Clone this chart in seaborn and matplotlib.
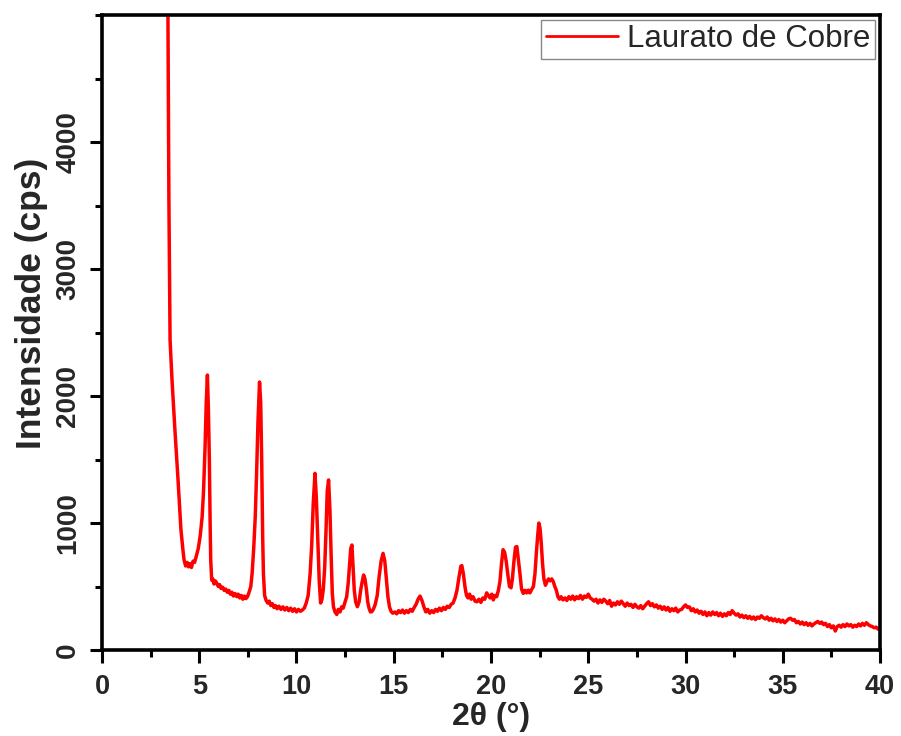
import matplotlib
matplotlib.use("Agg")
import matplotlib.pyplot as plt
from matplotlib.ticker import MultipleLocator, FixedLocator
import pandas as pd
import seaborn as sns

# XRD pattern of copper laurate: 2-theta (degrees) and intensity (counts per second)
two_theta = [
    3.38, 3.44, 3.50, 3.60, 3.75, 3.91, 4.06, 4.16, 4.22, 4.30, 4.38, 4.45, 4.52, 4.60, 4.68,
    4.76, 4.85, 4.95, 5.05, 5.15, 5.22, 5.30, 5.36, 5.42, 5.47, 5.52, 5.56, 5.59, 5.64, 5.70,
    5.76, 5.82, 5.90, 5.98, 6.05, 6.12, 6.20, 6.28, 6.36, 6.44, 6.52, 6.60, 6.68, 6.76, 6.84,
    6.93, 7.00, 7.08, 7.16, 7.24, 7.32, 7.40, 7.48, 7.55, 7.65, 7.72, 7.80, 7.88, 7.95, 8.02,
    8.10, 8.16, 8.21, 8.26, 8.30, 8.36, 8.44, 8.52, 8.60, 8.68, 8.76, 8.84, 8.92, 9.00, 9.10,
    9.20, 9.30, 9.40, 9.50, 9.60, 9.70, 9.80, 9.90, 10.00, 10.10, 10.20, 10.30, 10.40, 10.50,
    10.60, 10.70, 10.78, 10.86, 10.95, 11.02, 11.10, 11.17, 11.24, 11.31, 11.38, 11.45, 11.52,
    11.58, 11.65, 11.72, 11.78, 11.84, 11.90, 11.98, 12.07, 12.15, 12.24, 12.32, 12.40, 12.50,
    12.58, 12.66, 12.72, 12.79, 12.85, 12.91, 12.97, 13.04, 13.13, 13.22, 13.30, 13.38, 13.45,
    13.52, 13.60, 13.66, 13.73, 13.80, 13.87, 13.95, 14.05, 14.15, 14.25, 14.35, 14.45, 14.54,
    14.62, 14.70, 14.78, 14.86, 14.95, 15.06, 15.15, 15.25, 15.35, 15.45, 15.55, 15.65, 15.75,
    15.85, 15.95, 16.05, 16.15, 16.25, 16.35, 16.45, 16.55, 16.65, 16.75, 16.85, 16.95, 17.05,
    17.15, 17.25, 17.35, 17.45, 17.55, 17.65, 17.75, 17.85, 17.95, 18.05, 18.15, 18.25, 18.35,
    18.45, 18.50, 18.58, 18.66, 18.74, 18.82, 18.90, 18.98, 19.08, 19.18, 19.28, 19.38, 19.48,
    19.58, 19.68, 19.78, 19.86, 19.95, 20.04, 20.12, 20.20, 20.29, 20.38, 20.46, 20.54, 20.62,
    20.70, 20.78, 20.86, 20.95, 21.03, 21.10, 21.18, 21.26, 21.33, 21.40, 21.49, 21.57, 21.66,
    21.75, 21.83, 21.92, 22.00, 22.10, 22.18, 22.26, 22.33, 22.40, 22.46, 22.52, 22.58, 22.65,
    22.72, 22.80, 22.88, 22.96, 23.04, 23.12, 23.20, 23.28, 23.36, 23.44, 23.52, 23.60, 23.70,
    23.80, 23.90, 24.00, 24.10, 24.20, 24.30, 24.40, 24.50, 24.60, 24.70, 24.80, 24.90, 25.00,
    25.10, 25.20, 25.30, 25.40, 25.50, 25.60, 25.70, 25.80, 25.90, 26.00, 26.10, 26.20, 26.30,
    26.40, 26.50, 26.60, 26.70, 26.80, 26.90, 27.00, 27.10, 27.20, 27.30, 27.40, 27.50, 27.60,
    27.70, 27.80, 27.90, 28.00, 28.10, 28.20, 28.30, 28.40, 28.50, 28.60, 28.70, 28.80, 28.90,
    29.00, 29.10, 29.20, 29.30, 29.40, 29.50, 29.60, 29.70, 29.80, 29.90, 30.00, 30.10, 30.20,
    30.30, 30.40, 30.50, 30.60, 30.70, 30.80, 30.90, 31.00, 31.10, 31.20, 31.30, 31.40, 31.50,
    31.60, 31.70, 31.80, 31.90, 32.00, 32.10, 32.20, 32.30, 32.40, 32.50, 32.60, 32.70, 32.80,
    32.90, 33.00, 33.10, 33.20, 33.30, 33.40, 33.50, 33.60, 33.70, 33.80, 33.90, 34.00, 34.10,
    34.20, 34.30, 34.40, 34.50, 34.60, 34.70, 34.80, 34.90, 35.00, 35.10, 35.20, 35.30, 35.40,
    35.50, 35.60, 35.70, 35.80, 35.90, 36.00, 36.10, 36.20, 36.30, 36.40, 36.50, 36.60, 36.70,
    36.80, 36.90, 37.00, 37.10, 37.20, 37.30, 37.40, 37.50, 37.60, 37.70, 37.80, 37.90, 38.00,
    38.10, 38.20, 38.30, 38.40, 38.50, 38.60, 38.70, 38.80, 38.90, 39.00, 39.10, 39.20, 39.30,
    39.40, 39.50, 39.60, 39.70, 39.80, 39.90, 40.00,
]

intensity = [
    5300, 3543, 2441, 2126, 1732, 1339, 945, 790, 709, 662, 690, 655, 680, 650, 700,
    690, 740, 800, 900, 1050, 1250, 1600, 1950, 2165, 1900, 1496, 1000, 709, 551, 560,
    520, 545, 528, 500, 515, 485, 495, 470, 480, 455, 470, 440, 455, 425, 445,
    420, 440, 410, 430, 400, 425, 405, 420, 449, 500, 606, 800, 1050, 1400, 1800,
    2110, 1950, 1500, 900, 600, 430, 390, 370, 385, 350, 365, 335, 350, 325, 345,
    320, 340, 315, 335, 310, 330, 305, 325, 300, 320, 305, 315, 330, 370,
    430, 600, 820, 1150, 1391, 1200, 850, 540, 370, 400, 480, 650, 950,
    1250, 1339, 1100, 750, 450, 340, 300, 280, 320, 300, 340, 330, 380,
    420, 530, 650, 800, 827, 650, 472, 380, 341, 380, 472, 540, 591,
    560, 470, 380, 330, 300, 302, 320, 360, 430, 580, 700, 761, 700,
    560, 420, 340, 305, 290, 300, 285, 310, 295, 315, 290, 310, 295,
    320, 305, 335, 360, 400, 425, 390, 340, 300, 320, 290, 310, 295,
    320, 305, 330, 310, 335, 320, 345, 335, 360, 370, 410, 470, 570,
    660, 665, 600, 500, 430, 410, 440, 400, 420, 385, 380, 400, 375,
    410, 400, 450, 430, 410, 440, 395, 430, 420, 470, 540, 680, 790,
    770, 700, 600, 500, 490, 560, 700, 810, 815, 720, 600, 480, 446,
    470, 450, 472, 450, 480, 500, 600, 760, 900, 1000, 960, 850, 680,
    560, 510, 540, 560, 545, 560, 540, 500, 470, 420, 400, 420, 395,
    410, 390, 420, 400, 425, 395, 420, 405, 430, 400, 425, 415, 440,
    410, 400, 385, 400, 370, 395, 375, 400, 385, 365, 390, 345, 370,
    355, 380, 360, 385, 365, 345, 370, 350, 360, 335, 360, 340, 330,
    350, 325, 345, 365, 380, 350, 365, 340, 355, 330, 345, 320, 340,
    315, 335, 305, 325, 310, 330, 300, 315, 320, 340, 355, 335, 340,
    310, 325, 300, 315, 290, 305, 280, 300, 270, 295, 275, 300, 280,
    295, 270, 290, 265, 285, 270, 295, 280, 310, 290, 275, 285, 260,
    275, 255, 270, 250, 265, 245, 260, 240, 260, 250, 270, 255, 245,
    260, 235, 250, 230, 245, 225, 240, 220, 235, 215, 230, 245, 250,
    235, 240, 215, 225, 205, 220, 200, 215, 195, 210, 190, 205, 215,
    225, 210, 220, 200, 210, 185, 200, 175, 190, 150, 185, 195, 180,
    200, 185, 205, 190, 200, 180, 195, 185, 205, 190, 210, 195, 215,
    200, 190, 185, 175, 180, 165, 170,
]

x_ticks = [0, 5, 10, 15, 20, 25, 30, 35, 40]
y_ticks = [0, 1000, 2000, 3000, 4000]

series_name = "Laurato de Cobre"
x_label = "2θ (°)"
y_label = "Intensidade (cps)"

df = pd.DataFrame({"two_theta": two_theta, "intensity": intensity, "amostra": series_name})

sns.set_style("ticks")
plt.rcParams["font.family"] = ["Liberation Sans", "DejaVu Sans"]

fig = plt.figure(figsize=(9.01, 7.36), dpi=100)
ax = fig.add_axes([0.1132, 0.1168, 0.8635, 0.8628])

sns.lineplot(data=df, x="two_theta", y="intensity", hue="amostra",
             palette=["#ff0000"], linewidth=2.5, ax=ax, sort=False)

ax.set_xlim(0, 40)
ax.set_ylim(0, 5000)
ax.xaxis.set_major_locator(FixedLocator(x_ticks))
ax.xaxis.set_minor_locator(MultipleLocator(2.5))
ax.yaxis.set_major_locator(FixedLocator(y_ticks))
ax.yaxis.set_minor_locator(MultipleLocator(500))

for side in ["left", "right", "top", "bottom"]:
    ax.spines[side].set_visible(True)
    ax.spines[side].set_linewidth(2.6)
    ax.spines[side].set_color("black")

ax.tick_params(axis="both", which="major", direction="out", length=9, width=2.2,
               color="black", pad=6)
ax.tick_params(axis="x", which="major", pad=8)
ax.tick_params(axis="both", which="minor", direction="out", length=5, width=2.2,
               color="black")
ax.tick_params(top=False, right=False, which="both")
ax.tick_params(axis="x", labelsize=19.5)
ax.tick_params(axis="y", labelsize=20, labelrotation=90)
for lbl in ax.get_xticklabels() + ax.get_yticklabels():
    lbl.set_fontweight("bold")
for lbl in ax.get_yticklabels():
    lbl.set_va("center")

ax.set_xlabel(x_label, fontsize=23, fontweight="bold", labelpad=2)
ax.set_ylabel(y_label, fontsize=25.5, fontweight="bold")
ax.yaxis.set_label_coords(-0.07, 0.546)

leg = ax.legend(loc="upper right", bbox_to_anchor=(1.0, 1.0), fontsize=22.5,
                frameon=True, fancybox=False, framealpha=1, edgecolor="#888888",
                handlelength=2.3, handletextpad=0.3, borderpad=0.15,
                borderaxespad=0.15)
leg.get_frame().set_linewidth(1.0)
for line in leg.get_lines():
    line.set_linewidth(2.0)

fig.savefig("out.png", dpi=100)
